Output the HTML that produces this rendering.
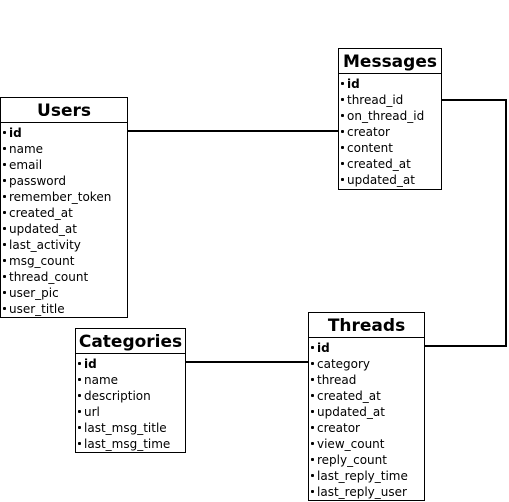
<!DOCTYPE html>
<html><head><style>
body{margin:0;width:509px;height:502px;background:#fff;position:relative;overflow:hidden;font-family:"DejaVu Sans","Liberation Sans",sans-serif;}
.t{position:absolute;border:1px solid #000;background:#fff;box-sizing:border-box;}
.h{height:24px;line-height:27px;text-align:center;font-weight:bold;font-size:17px;border-bottom:1px solid #000;margin-bottom:2px;}
.r{height:16px;line-height:16px;font-size:12px;padding-left:8px;position:relative;white-space:nowrap;}
.r:before{content:"";position:absolute;left:2px;top:6px;width:3px;height:3px;background:#000;border-radius:1px;}
.b{font-weight:bold;}
svg{position:absolute;left:0;top:0;}
</style></head><body>
<svg width="509" height="502">
<g stroke="#000" stroke-width="2" fill="none">
<line x1="127" y1="131" x2="338" y2="131"/>
<polyline points="441,100 506,100 506,346 424,346"/>
<line x1="185" y1="362" x2="308" y2="362"/>
</g></svg>
<div class="t" style="left:0;top:97px;width:128px;height:221px;">
<div class="h">Users</div>
<div class="r b">id</div><div class="r">name</div><div class="r">email</div><div class="r">password</div><div class="r">remember_token</div><div class="r">created_at</div><div class="r">updated_at</div><div class="r">last_activity</div><div class="r">msg_count</div><div class="r">thread_count</div><div class="r">user_pic</div><div class="r">user_title</div>
</div>
<div class="t" style="left:338px;top:48px;width:104px;height:142px;">
<div class="h">Messages</div>
<div class="r b">id</div><div class="r">thread_id</div><div class="r">on_thread_id</div><div class="r">creator</div><div class="r">content</div><div class="r">created_at</div><div class="r">updated_at</div>
</div>
<div class="t" style="left:75px;top:328px;width:111px;height:125px;">
<div class="h">Categories</div>
<div class="r b">id</div><div class="r">name</div><div class="r">description</div><div class="r">url</div><div class="r">last_msg_title</div><div class="r">last_msg_time</div>
</div>
<div class="t" style="left:308px;top:312px;width:117px;height:189px;">
<div class="h">Threads</div>
<div class="r b">id</div><div class="r">category</div><div class="r">thread</div><div class="r">created_at</div><div class="r">updated_at</div><div class="r">creator</div><div class="r">view_count</div><div class="r">reply_count</div><div class="r">last_reply_time</div><div class="r">last_reply_user</div>
</div>
</body></html>
